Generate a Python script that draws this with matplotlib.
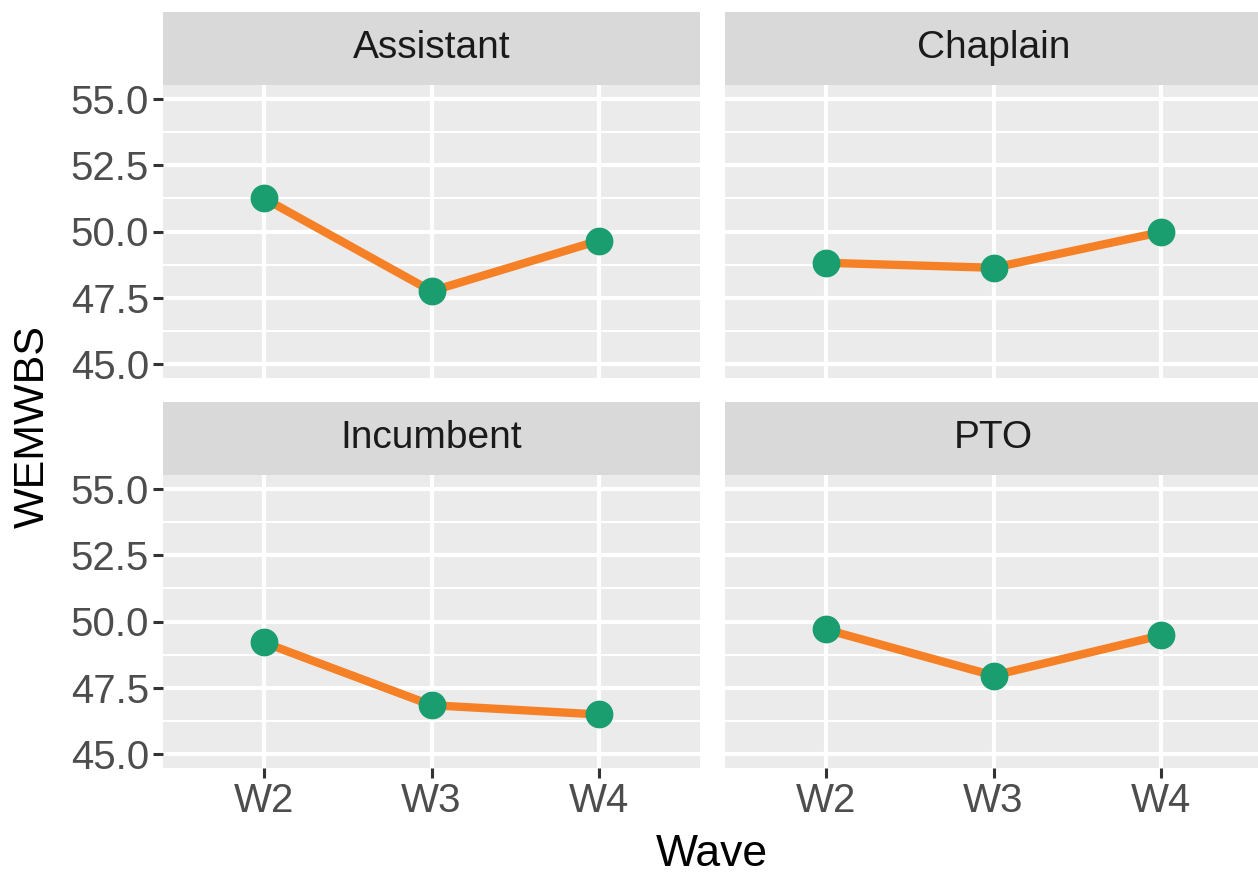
import numpy as np
import matplotlib.pyplot as plt

plt.rcParams['font.family'] = ['Liberation Sans', 'DejaVu Sans']

# Données
waves = ['W2', 'W3', 'W4']
roles = ['Assistant', 'Chaplain', 'Incumbent', 'PTO']
assistant = [51.26, 47.75, 49.66]
chaplain = [48.82, 48.63, 49.98]
incumbent = [49.21, 46.84, 46.49]
pto = [49.70, 47.96, 49.48]
values = [assistant, chaplain, incumbent, pto]

yticks = [45.0, 47.5, 50.0, 52.5, 55.0]

W, H = 1258, 873
fig = plt.figure(figsize=(W / 100, H / 100), dpi=100)

# positions des panneaux en pixels (gauche, largeur) et (haut, hauteur, haut du bandeau)
cols = [(163, 537), (725, 537)]
rows = [(85, 293, 12), (475, 293, 402)]

x = np.arange(1, len(waves) + 1)
for i, role in enumerate(roles):
    r, c = divmod(i, 2)
    left, width = cols[c]
    top, height, stop = rows[r]
    ax = fig.add_axes([left / W, 1 - (top + height) / H, width / W, height / H])
    ax.set_facecolor('#EBEBEB')
    for s in ax.spines.values():
        s.set_visible(False)
    ax.set_xlim(0.4, 3.6)
    ax.set_ylim(44.47, 55.53)
    ax.set_xticks(x)
    ax.set_yticks(yticks)
    ax.set_yticks([46.25, 48.75, 51.25, 53.75], minor=True)
    ax.grid(True, which='major', color='white', linewidth=3.0)
    ax.grid(True, which='minor', axis='y', color='white', linewidth=1.5)
    ax.set_axisbelow(True)
    ax.tick_params(which='minor', length=0)
    ax.tick_params(which='major', length=7, width=2.2, color='#333333',
                   labelsize=29, labelcolor='#4D4D4D', pad=3)
    if c == 0:
        ax.set_yticklabels([f'{v:.1f}' for v in yticks])
    else:
        ax.tick_params(axis='y', length=0, labelleft=False)
    if r == 1:
        ax.set_xticklabels(waves)
    else:
        ax.tick_params(axis='x', length=0, labelbottom=False)

    ax.plot(x, values[i], color='#F58025', linewidth=6, zorder=3,
            solid_capstyle='butt')
    ax.plot(x, values[i], 'o', color='#1A9E6F', markersize=19, zorder=4)

    # bandeau du titre
    sax = fig.add_axes([left / W, 1 - top / H, width / W, (top - stop) / H])
    sax.set_facecolor('#D9D9D9')
    sax.set_xticks([])
    sax.set_yticks([])
    for s in sax.spines.values():
        s.set_visible(False)
    sax.text(0.5, 0.5, role, transform=sax.transAxes, ha='center', va='center',
             fontsize=28, color='#1A1A1A')

fig.text(33 / W, 1 - 427 / H, 'WEMWBS', rotation=90, ha='center', va='center',
         fontsize=31)
fig.text(712 / W, 1 - 855 / H, 'Wave', ha='center', va='center', fontsize=32)

fig.savefig('out.png', dpi=100, facecolor='white')
